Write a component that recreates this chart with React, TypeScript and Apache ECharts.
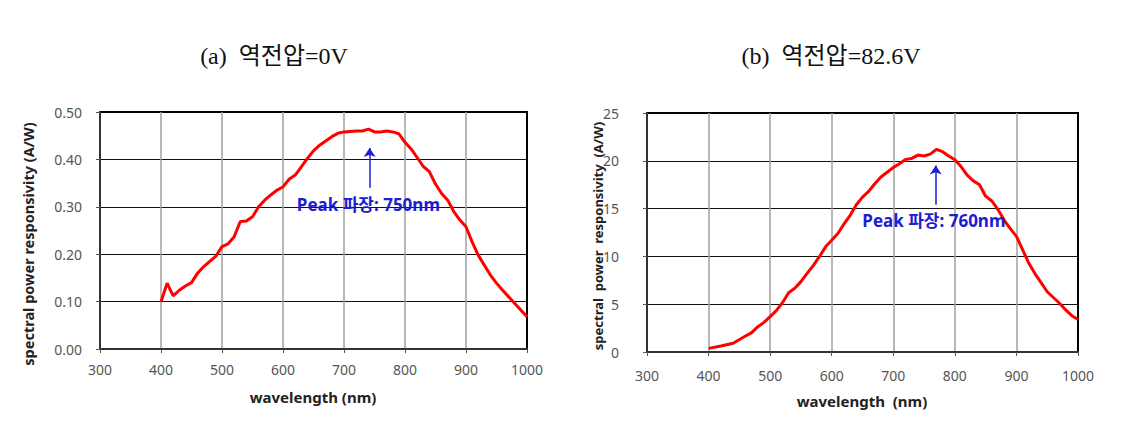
import React, { useEffect, useRef } from "react";
import * as echarts from "echarts";

const wavelengthA = [400,410,420,430,440,450,460,470,480,490,500,510,520,530,540,550,560,570,580,590,600,610,620,630,640,650,660,670,680,690,700,710,720,730,740,750,760,770,780,790,800,810,820,830,840,850,860,870,880,890,900,910,920,930,940,950,960,970,980,990,1000];
const respA = [0.099,0.139,0.112,0.124,0.133,0.140,0.160,0.174,0.185,0.196,0.216,0.222,0.237,0.269,0.270,0.279,0.300,0.314,0.325,0.335,0.342,0.358,0.367,0.384,0.402,0.418,0.430,0.439,0.448,0.455,0.458,0.459,0.460,0.460,0.464,0.458,0.458,0.460,0.458,0.454,0.436,0.422,0.404,0.385,0.374,0.348,0.328,0.314,0.290,0.272,0.258,0.226,0.198,0.177,0.156,0.139,0.124,0.110,0.096,0.082,0.068];

const wavelengthB = [400,420,440,460,470,480,490,500,510,520,530,540,550,560,570,580,590,600,610,620,630,640,650,660,670,680,690,700,710,720,730,740,750,760,770,780,790,800,810,820,830,840,850,860,870,880,890,900,910,920,930,940,950,960,970,980,990,1000];
const respB = [0.38,0.63,0.91,1.67,2.02,2.65,3.1,3.7,4.32,5.16,6.2,6.66,7.36,8.23,9.03,9.97,11.0,11.7,12.4,13.4,14.3,15.4,16.2,16.8,17.6,18.3,18.8,19.3,19.7,20.15,20.25,20.6,20.5,20.7,21.2,20.95,20.5,20.1,19.4,18.5,17.9,17.5,16.3,15.8,14.9,13.8,12.9,12.1,10.7,9.3,8.2,7.25,6.3,5.7,5.1,4.4,3.8,3.4];

const xTicks = { min: 300, max: 1000, interval: 100 };
const yTicksA = { min: 0, max: 0.5, interval: 0.1 };
const yTicksB = { min: 0, max: 25, interval: 5 };

const titleA = "(a)  역전압=0V";
const titleB = "(b)  역전압=82.6V";
const yTitleA = "spectral power responsivity (A/W)";
const yTitleB = "spectral  power  responsivity  (A/W)";
const xTitleA = "wavelength (nm)";
const xTitleB = "wavelength  (nm)";
const peakLabelA = "Peak 파장: 750nm";
const peakLabelB = "Peak 파장: 760nm";
// annotation anchors in data coords
const peakA = { x: 742, tail: 0.34, tip: 0.424, labelX: 740, labelY: 0.304 };
const peakB = { x: 769, tail: 15.4, tip: 19.5, labelX: 766, labelY: 13.8 };

const SANS = "'Noto Sans', 'Noto Sans CJK KR', sans-serif";
const SERIF = "'Liberation Serif', 'Noto Sans CJK KR', serif";
const BLUE = "#1c1cd0";

function makeXAxis(gridIndex: number, margin: number) {
  return {
    type: "value",
    gridIndex,
    ...xTicks,
    axisLine: { show: true, lineStyle: { color: "#333", width: 2 } },
    axisTick: { show: true, length: 4, lineStyle: { color: "#555" } },
    axisLabel: { color: "#555", fontSize: 14, fontFamily: SANS, margin, formatter: (v: number) => String(v) },
    splitLine: { show: true, showMinLine: false, showMaxLine: false, lineStyle: { color: "#a0a0a0", width: 1.5 } },
  };
}

function makeYAxis(gridIndex: number, t: any, margin: number, fmt: (v: number) => string) {
  return {
    type: "value",
    gridIndex,
    ...t,
    axisLine: { show: true, lineStyle: { color: "#333", width: 2 } },
    axisTick: { show: true, length: 4, lineStyle: { color: "#555" } },
    axisLabel: { color: "#555", fontSize: 14, fontFamily: SANS, margin, formatter: fmt },
    splitLine: { show: true, showMinLine: false, showMaxLine: false, lineStyle: { color: "#111", width: 1 } },
  };
}

function makeSeries(idx: number, xs: number[], ys: number[], peak: any, label: string) {
  return {
    type: "line",
    xAxisIndex: idx,
    yAxisIndex: idx,
    data: xs.map((x, i) => [x, ys[i]]),
    showSymbol: false,
    symbol: "none",
    lineStyle: { color: "#ff0000", width: 3 },
    z: 3,
    markLine: {
      silent: true,
      symbol: ["none", "arrow"],
      symbolSize: 9,
      label: { show: false },
      lineStyle: { color: BLUE, width: 1.5, type: "solid" },
      data: [[{ coord: [peak.x, peak.tail] }, { coord: [peak.x, peak.tip] }]],
    },
    markPoint: {
      silent: true,
      symbol: "circle",
      symbolSize: 1,
      itemStyle: { color: "rgba(0,0,0,0)" },
      label: {
        show: true,
        position: "inside",
        formatter: label,
        color: BLUE,
        fontSize: 17,
        fontWeight: "bold",
        fontFamily: SANS,
      },
      data: [{ coord: [peak.labelX, peak.labelY] }],
    },
  };
}

export default function App() {
  const ref = useRef<HTMLDivElement>(null);
  useEffect(() => {
    if (!ref.current) return;
    const chart = echarts.init(ref.current, null, { renderer: "svg" });
    chart.setOption({
      animation: false,
      backgroundColor: "#fff",
      grid: [
        { left: 100, top: 112, width: 427, height: 237, show: true, borderColor: "#000", borderWidth: 2, containLabel: false },
        { left: 647, top: 113, width: 431, height: 239, show: true, borderColor: "#000", borderWidth: 2, containLabel: false },
      ],
      xAxis: [makeXAxis(0, 13), makeXAxis(1, 16)],
      yAxis: [
        makeYAxis(0, yTicksA, 18, (v: number) => v.toFixed(2)),
        makeYAxis(1, yTicksB, 28, (v: number) => String(v)),
      ],
      series: [
        makeSeries(0, wavelengthA, respA, peakA, peakLabelA),
        makeSeries(1, wavelengthB, respB, peakB, peakLabelB),
      ],
      graphic: [
        { type: "text", x: 274, y: 56, style: { text: titleA, font: `24px ${SERIF}`, fill: "#111", align: "center", verticalAlign: "middle" } },
        { type: "text", x: 831, y: 56, style: { text: titleB, font: `24px ${SERIF}`, fill: "#111", align: "center", verticalAlign: "middle" } },
        { type: "text", x: 28, y: 244, rotation: Math.PI / 2, style: { text: yTitleA, font: `bold 14.5px ${SANS}`, fill: "#222", align: "center", verticalAlign: "middle" } },
        { type: "text", x: 598, y: 236, rotation: Math.PI / 2, style: { text: yTitleB, font: `bold 13px ${SANS}`, fill: "#222", align: "center", verticalAlign: "middle" } },
        { type: "text", x: 313, y: 397, style: { text: xTitleA, font: `bold 15px ${SANS}`, fill: "#222", align: "center", verticalAlign: "middle" } },
        { type: "text", x: 862, y: 401, style: { text: xTitleB, font: `bold 15px ${SANS}`, fill: "#222", align: "center", verticalAlign: "middle" } },
      ],
    });
    return () => chart.dispose();
  }, []);
  return <div ref={ref} style={{ position: "fixed", left: 0, top: 0, width: 1131, height: 422 }} />;
}
